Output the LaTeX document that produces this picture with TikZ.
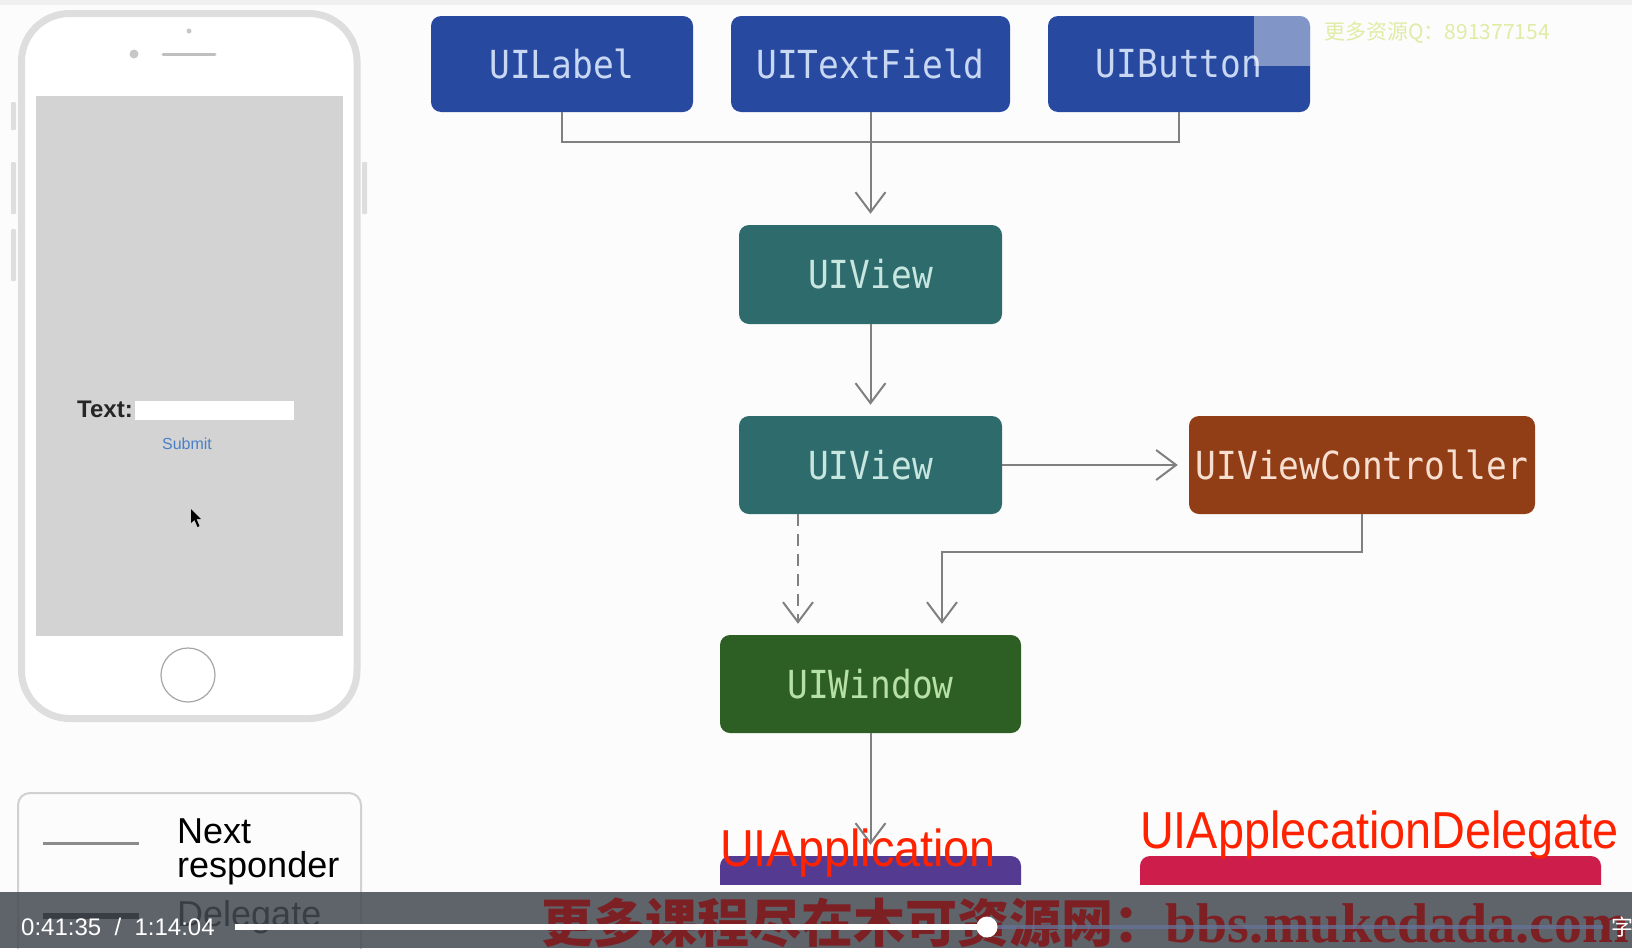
\documentclass[tikz,border=0pt]{standalone}
\usepackage{fontspec}
\usepackage{graphicx}
\setmainfont{Liberation Sans}
\newfontfamily\monof{DejaVu Sans Mono}
\newfontfamily\cjkf{Noto Sans CJK SC}
\newfontfamily\seriff{Liberation Serif}
\usetikzlibrary{arrows.meta}
\definecolor{bgc}{RGB}{252,252,252}
\definecolor{cblue}{RGB}{40,73,160}
\definecolor{tblue}{RGB}{200,215,242}
\definecolor{cteal}{RGB}{46,107,108}
\definecolor{tteal}{RGB}{200,230,224}
\definecolor{crust}{RGB}{145,62,22}
\definecolor{trust}{RGB}{246,222,208}
\definecolor{cgreen}{RGB}{45,94,35}
\definecolor{tgreen}{RGB}{182,224,166}
\definecolor{cpurple}{RGB}{85,58,145}
\definecolor{ccrimson}{RGB}{205,30,75}
\definecolor{appred}{RGB}{255,34,0}
\definecolor{linegray}{RGB}{128,128,128}
\definecolor{phonegray}{RGB}{222,222,222}
\definecolor{screen}{RGB}{211,211,211}
\definecolor{barcol}{RGB}{68,73,81}
\definecolor{wmred}{RGB}{125,32,36}
\definecolor{wmyellow}{RGB}{224,236,165}
\definecolor{trackc}{RGB}{100,115,150}
\newcommand\bt[1]{\scalebox{1}[1.12]{#1}}
\tikzset{
  box/.style={rounded corners=10pt, inner sep=0pt, font=\monof\fontsize{34.5}{40}\selectfont},
  arr/.style={draw=linegray, line width=2pt, -{Straight Barb[length=20pt,width=30pt,line width=2pt]}, shorten >=11pt},
  plain/.style={draw=linegray, line width=2pt},
  redlabel/.style={anchor=base west, inner sep=0pt, text=appred, font=\fontsize{52}{60}\selectfont, xscale=0.9},
  legtext/.style={anchor=base west, inner sep=0pt, font=\fontsize{36}{40}\selectfont}
}
\begin{document}
\begin{tikzpicture}[x=1pt,y=-1pt]
\useasboundingbox (0,0) rectangle (1632,948);
\clip (0,0) rectangle (1632,948);
\fill[bgc] (0,0) rectangle (1632,948);
\fill[black!6] (0,0) rectangle (1632,5);

% ---------- phone ----------
\fill[phonegray, rounded corners=1pt] (11,102) rectangle (16,130);
\fill[phonegray, rounded corners=1pt] (11,162) rectangle (16,214);
\fill[phonegray, rounded corners=1pt] (11,229) rectangle (16,281);
\fill[phonegray, rounded corners=1pt] (362,162) rectangle (367,214);
\draw[phonegray, fill=white, line width=7pt, rounded corners=48pt] (21.5,13.5) rectangle (357,718.5);
\fill[screen] (36,96) rectangle (343,636);
\fill[black!22] (189,31) circle (2.5pt);
\fill[black!22] (134,54) circle (4.5pt);
\draw[black!25, line width=3pt, line cap=round] (163,54) -- (215,54);
\draw[black!35, line width=1.2pt] (188,675) circle (27pt);
\node[anchor=base west, inner sep=0pt, font=\bfseries\fontsize{24}{30}\selectfont, text=black!85] (txtlbl) at (77,417) {Text:};
\fill[white] (135,401) rectangle (294,420);
\node[inner sep=0pt, font=\fontsize{16}{18}\selectfont, text={rgb,255:red,74;green,128;blue,200}] (submit) at (187,444) {Submit};
\fill[black] (191,509) -- (191,523) -- (194.5,520) -- (197.5,527) -- (199.5,526) -- (196.5,519) -- (201,519) -- cycle;

% ---------- legend ----------
\draw[black!18, line width=2pt, rounded corners=12pt] (18,793) rectangle (361,970);
\draw[black!45, line width=3pt] (43,843) -- (139,843);
\node[legtext] (next) at (177,843) {Next};
\node[legtext] (resp) at (177,877) {responder};
\draw[black, line width=6pt] (43,916) -- (139,916);
\node[legtext, text=black] (deleg) at (177,926) {Delegate};

% ---------- boxes ----------
\node[box, fill=cblue, text=tblue, minimum width=262pt, minimum height=96pt] (lbl) at (562,64) {\bt{UILabel}};
\node[box, fill=cblue, text=tblue, minimum width=279pt, minimum height=96pt] (tf) at (870.5,64) {\bt{UITextField}};
\node[box, fill=cblue, text=tblue, minimum width=262pt, minimum height=96pt] (btn) at (1179,64) {\bt{UIButton}};
\begin{scope}
\clip[rounded corners=10pt] (btn.south west) rectangle (btn.north east);
\fill[white, opacity=0.42] (1254,14) rectangle (1312,66);
\end{scope}
\node[box, fill=cteal, text=tteal, minimum width=263pt, minimum height=99pt] (v1) at (870.5,274.5) {\bt{UIView}};
\node[box, fill=cteal, text=tteal, minimum width=263pt, minimum height=98pt] (v2) at (870.5,465) {\bt{UIView}};
\node[box, fill=crust, text=trust, minimum width=346pt, minimum height=98pt] (vc) at (1362,465) {\bt{UIViewController}};
\node[box, fill=cgreen, text=tgreen, minimum width=301pt, minimum height=98pt] (win) at (870.5,684) {\bt{UIWindow}};
\node[box, fill=cpurple, minimum width=301pt, minimum height=49pt] (app) at (870.5,880.5) {};
\node[box, fill=ccrimson, minimum width=461pt, minimum height=49pt] (dlg) at (1370.5,880.5) {};
\fill[bgc] (690,885) rectangle (1632,948);

% ---------- connectors ----------
\coordinate (junc) at (870.5,142);
\coordinate (vcturn) at (942,552);
\coordinate (xd) at (798,0);
\draw[plain] (lbl.south) |- (junc) -| (btn.south);
\draw[arr] (tf.south) -- (v1.north);
\draw[arr] (v1.south) -- (v2.north);
\draw[arr] (v2.east) -- (vc.west);
\draw[arr] (vc.south) |- (vcturn) -- (vcturn |- win.north);
\draw[arr, dash pattern=on 12pt off 8pt] (v2.south -| xd) -- (win.north -| xd);
\draw[arr] (win.south) -- (app.north);

% ---------- red labels ----------
\node[redlabel] (applbl) at (720,866) {UIApplication};
\node[redlabel] (dlglbl) at (1140,848) {UIApplecationDelegate};

% ---------- watermark top ----------
\node[anchor=west, inner sep=0pt, text=wmyellow, font=\cjkf\fontsize{21}{24}\selectfont] (wmtop) at (1324,33) {更多资源Q：891377154};

% ---------- video bar ----------
\fill[barcol, opacity=0.85] (0,892) rectangle (1632,948);
\node[anchor=base west, inner sep=0pt, text=wmred] (wm) at (541,942) {{\cjkf\bfseries\fontsize{52}{56}\selectfont 更多课程尽在木可资源网：}{\seriff\bfseries\fontsize{56}{60}\selectfont bbs.mukedada.com}};
\draw[trackc, line width=4pt, opacity=0.8] (987,927) -- (1603,927);
\draw[white, line width=6pt] (235,927) -- (987,927);
\fill[white] (987,927) circle (10.5pt);
\node[anchor=west, inner sep=0pt, text=white, font=\fontsize{24}{28}\selectfont] (time) at (21,927) {0:41:35~ /~ 1:14:04};
\node[anchor=west, inner sep=0pt, text=white, font=\cjkf\fontsize{22}{24}\selectfont] (zi) at (1611,927) {字};
\end{tikzpicture}
\end{document}
